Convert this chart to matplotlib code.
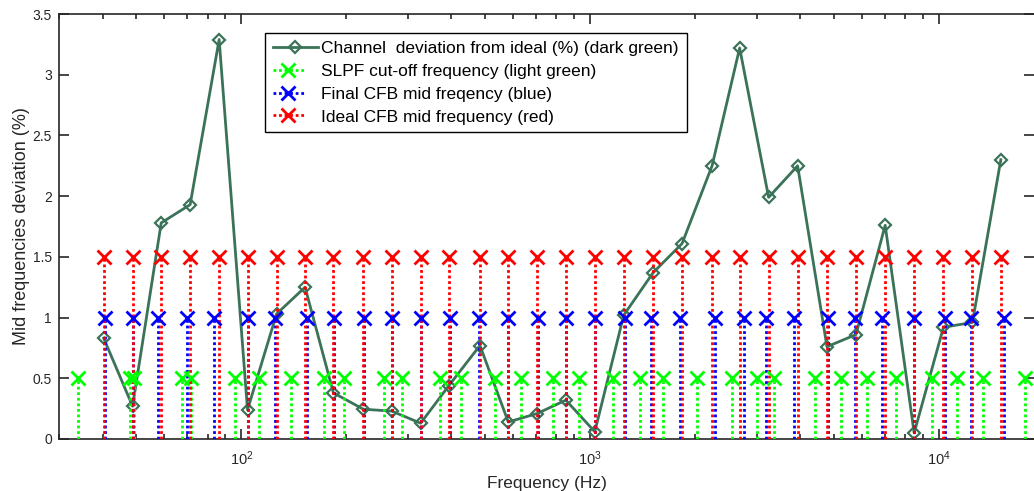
import matplotlib
matplotlib.use("Agg")
import matplotlib.pyplot as plt
from matplotlib.lines import Line2D
from matplotlib.legend_handler import HandlerLine2D
import matplotlib.ticker as ticker

# ===================== data =====================
# ideal CFB mid frequencies (Hz), one per channel
ideal_freq = [40.29, 48.76, 58.90, 71.29, 86.33, 104.1, 126.1, 152.2, 183.5, 223.7,
              269.6, 326.4, 393.3, 482.7, 582.0, 704.6, 850.9, 1030.1, 1247.3, 1514,
              1833, 2234, 2680, 3245, 3929, 4769, 5774, 7003, 8478, 10287,
              12456, 15022]

# final CFB mid frequencies (Hz)
final_freq = [40.62, 48.89, 57.85, 69.91, 83.49, 104.35, 124.79, 154.1, 184.2, 224.25,
              270.2, 326.8, 395.0, 479.0, 582.8, 706.0, 853.5, 1030.7, 1260.0, 1493.3,
              1803.5, 2284.3, 2766.3, 3180.4, 3840.6, 4805.2, 5724.3, 6879.7, 8473.8, 10381.6,
              12336.4, 15367.5]

# SLPF cut-off frequencies (Hz)
slpf_freq = [34.0, 47.9, 49.2, 67.5, 71.7, 96.0, 112.4, 138.6, 172.0, 197.0,
             255.9, 288.1, 370.2, 425.1, 532.0, 631.6, 779.8, 925.7, 1158.5, 1384,
             1610.7, 2029, 2556, 3014, 3371, 4418, 5244, 6226, 7539, 9555,
             11270, 13377, 17646]

# channel deviation from ideal (%)
deviation = [0.83, 0.27, 1.78, 1.93, 3.29, 0.24, 1.03, 1.25, 0.38, 0.245,
             0.23, 0.13, 0.44, 0.77, 0.14, 0.21, 0.32, 0.06, 1.02, 1.37,
             1.61, 2.25, 3.22, 1.99, 2.25, 0.76, 0.86, 1.76, 0.05, 0.92,
             0.96, 2.30]

# stem heights used only to separate the three frequency sets
slpf_level = 0.5
final_level = 1.0
ideal_level = 1.5

y_ticks = [0, 0.5, 1, 1.5, 2, 2.5, 3, 3.5]
y_tick_labels = ["0", "0.5", "1", "1.5", "2", "2.5", "3", "3.5"]

labels = ["Channel  deviation from ideal (%) (dark green)",
          "SLPF cut-off frequency (light green)",
          "Final CFB mid freqency (blue)",
          "Ideal CFB mid frequency (red)"]

# ===================== style =====================
plt.rcParams.update({
    'font.family': ['Liberation Sans', 'DejaVu Sans'],
    'font.size': 10,
    'axes.edgecolor': '#262626',
    'axes.linewidth': 1.2,
    'xtick.color': '#262626',
    'ytick.color': '#262626',
})

dark_green = '#3b7358'
light_green = '#00ff00'
blue = '#0000ff'
red = '#ff0000'

fig = plt.figure(figsize=(10.34, 4.91), dpi=100)
ax = fig.add_axes([59 / 1034, 52 / 491, (1034 - 59) / 1034, 425 / 491])

# channel deviation line (drawn first, so the stems lie on top)
ax.plot(ideal_freq, deviation, color=dark_green, lw=2.0, marker='D', ms=6.5,
        mfc='none', mec=dark_green, mew=1.6, zorder=2)


def stems(freqs, level, color):
    ax.vlines(freqs, 0, level, colors=color, linestyles=(0, (1, 1)), lw=2.0, zorder=3)
    ax.plot(freqs, [level] * len(freqs), ls='none', marker='x', ms=9.5, mew=2.0,
            color=color, zorder=4)


stems(slpf_freq, slpf_level, light_green)
stems(final_freq, final_level, blue)
stems(ideal_freq, ideal_level, red)

# ===================== axes =====================
ax.set_xscale('log')
ax.set_xlim(30, 18700)
ax.set_ylim(0, 3.5)
ax.set_yticks(y_ticks)
ax.set_yticklabels(y_tick_labels)
ax.xaxis.set_minor_locator(ticker.LogLocator(base=10, subs=range(2, 10), numticks=20))
ax.xaxis.set_minor_formatter(ticker.NullFormatter())

ax.tick_params(which='both', direction='in', top=True, right=True, width=1.2)
ax.tick_params(which='major', length=7, pad=5, labelsize=10)
ax.tick_params(axis='x', which='major', pad=7.5, labelsize=10.5)
ax.tick_params(which='minor', length=3.5)
ax.spines['right'].set_visible(False)

ax.set_xlabel("Frequency (Hz)", fontsize=12.5, color='#262626', labelpad=6)
ax.set_ylabel("Mid frequencies deviation (%)", fontsize=13, color='#262626', labelpad=2)


# legend: stem entries show the dotted line with the cross at its right end
class StemHandler(HandlerLine2D):
    def get_xdata(self, legend, xdescent, ydescent, width, height, fontsize):
        x_end = -xdescent + 0.68 * width
        return [-xdescent, x_end], [x_end]


h_dev = Line2D([], [], color=dark_green, lw=2.0, marker='D', ms=6.5,
               mfc='none', mec=dark_green, mew=1.6)
h_slpf = Line2D([], [], color=light_green, ls=(0, (1, 1)), lw=2.0, marker='x', ms=9.5, mew=2.0)
h_final = Line2D([], [], color=blue, ls=(0, (1, 1)), lw=2.0, marker='x', ms=9.5, mew=2.0)
h_ideal = Line2D([], [], color=red, ls=(0, (1, 1)), lw=2.0, marker='x', ms=9.5, mew=2.0)

leg = ax.legend([h_dev, h_slpf, h_final, h_ideal], labels,
                handler_map={h_slpf: StemHandler(), h_final: StemHandler(),
                             h_ideal: StemHandler(), h_dev: HandlerLine2D(numpoints=1)},
                loc='upper left', bbox_to_anchor=(0.2113, 0.956), borderaxespad=0,
                fontsize=12.5, handlelength=2.6, handletextpad=0.2, labelspacing=0.45,
                borderpad=0.45, fancybox=False, framealpha=1, edgecolor='black')
leg.get_frame().set_linewidth(1.0)

fig.savefig("out.png", dpi=100)
